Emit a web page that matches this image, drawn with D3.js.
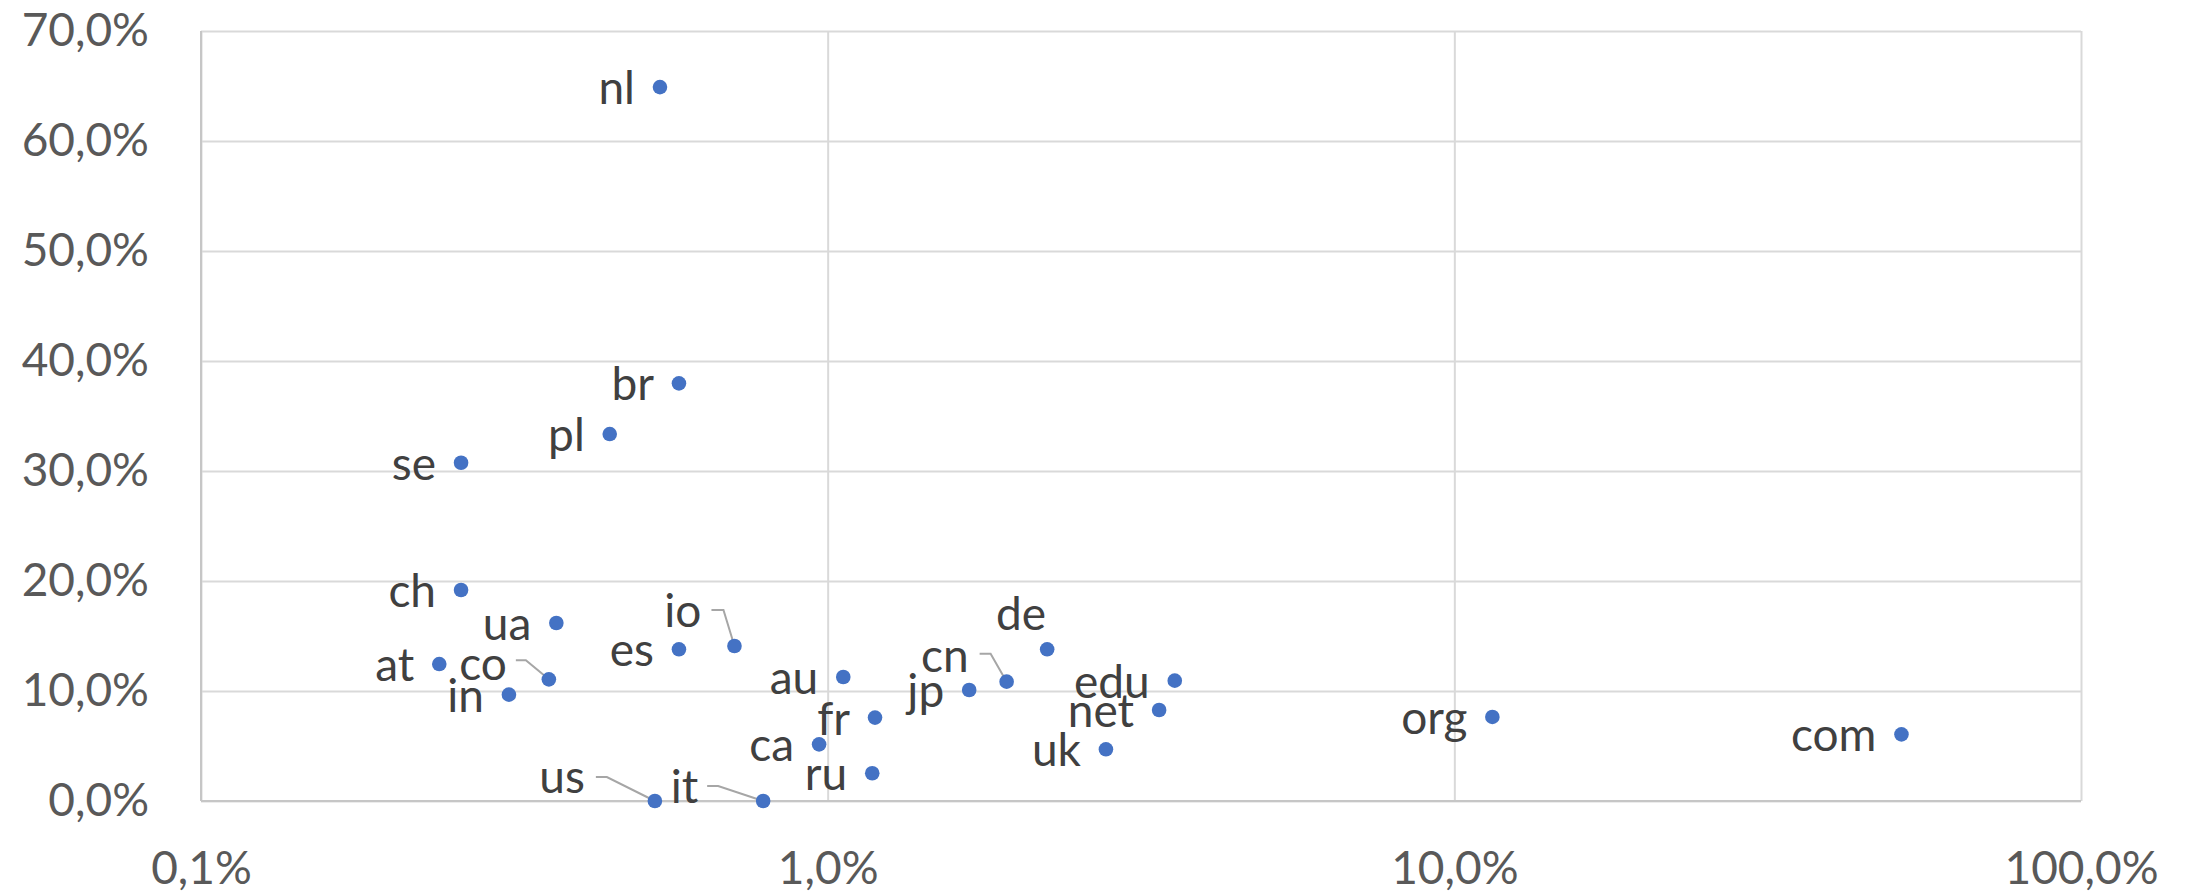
<!DOCTYPE html>
<html>
<head>
<meta charset="utf-8">
<script src="https://cdn.jsdelivr.net/npm/d3@7"></script>
<style>
  html, body { margin: 0; padding: 0; background: #ffffff; }
  svg { display: block; }
</style>
</head>
<body>
<svg id="chart" width="2188" height="894"></svg>
<script>
// ---- data ----
const domains = ["nl","br","pl","se","ch","ua","at","co","in","es","us","io","it","au","fr","ca","ru","jp","cn","de","edu","net","uk","org","com"];
const shareX  = [0.00540,0.00579,0.00449,0.00260,0.00260,0.00369,0.00240,0.00359,0.00310,0.00579,0.00530,0.00710,0.00789,0.01059,0.01190,0.00969,0.01178,0.01682,0.01930,0.02240,0.03580,0.03380,0.02780,0.11500,0.51700];
const shareY  = [0.649,0.3797,0.3336,0.3075,0.1918,0.1618,0.1245,0.1106,0.0967,0.1379,0.0,0.1409,0.0,0.1127,0.0758,0.0515,0.0252,0.1009,0.1085,0.1379,0.1094,0.0827,0.0470,0.0764,0.0606];
const xTickValues = [0.001, 0.01, 0.1, 1];
const yTickValues = [0, 0.1, 0.2, 0.3, 0.4, 0.5, 0.6, 0.7];

// ---- layout / style (not data) ----
const W = 2188, H = 894;
const margin = {left: 201, right: 107, top: 31, bottom: 93};
const width = W - margin.left - margin.right;
const height = H - margin.top - margin.bottom;
const FONT = "Lato, 'Open Sans', sans-serif";
const FS = 46;

// label placement: default is left of point; some labels are moved with leader lines
const defaultLabel = {dx: -25, dy: 17};
const customLabels = {
  co: {dx: -42, dy: 1,   leader: [[-33,-19],[-23,-19],[0,0]]},
  io: {dx: -33, dy: -19, leader: [[-23,-36],[-11,-36],[0,0]]},
  us: {dx: -70, dy: -8,  leader: [[-59,-24],[-48,-24],[0,0]]},
  it: {dx: -65, dy: 2,   leader: [[-56,-15],[-45,-15],[0,0]]},
  cn: {dx: -38, dy: -10, leader: [[-27,-28],[-16,-28],[0,0]]},
  de: {dx: -1,  dy: -19}
};

const locale = d3.formatLocale({decimal: ",", thousands: ".", grouping: [3], currency: ["", "€"]});
const fmt = locale.format(".1%");

const svg = d3.select("#chart");
const g = svg.append("g").attr("transform", `translate(${margin.left},${margin.top})`);

const x = d3.scaleLog().domain([0.001, 1]).range([0, width]);
const y = d3.scaleLinear().domain([0, 0.7]).range([height, 0]);

// Y axis with horizontal gridlines
const yAxis = g.append("g")
  .call(d3.axisLeft(y).tickValues(yTickValues).tickFormat(fmt).tickSize(-width).tickPadding(52));
yAxis.select(".domain").remove();
yAxis.selectAll(".tick line").attr("stroke", "#d9d9d9").attr("stroke-width", 2);
yAxis.selectAll(".tick text").attr("fill", "#595959").style("font-family", FONT).style("font-size", FS + "px");

// X axis with vertical gridlines
const xAxis = g.append("g").attr("transform", `translate(0,${height})`)
  .call(d3.axisBottom(x).tickValues(xTickValues).tickFormat(fmt).tickSize(-height).tickPadding(50));
xAxis.select(".domain").remove();
xAxis.selectAll(".tick line").attr("stroke", "#d9d9d9").attr("stroke-width", 2);
xAxis.selectAll(".tick text").attr("fill", "#595959").style("font-family", FONT).style("font-size", FS + "px");

// axis lines
g.append("line").attr("x1", 0).attr("x2", 0).attr("y1", 0).attr("y2", height)
  .attr("stroke", "#c6c6c6").attr("stroke-width", 2);
g.append("line").attr("x1", 0).attr("x2", width).attr("y1", height).attr("y2", height)
  .attr("stroke", "#c6c6c6").attr("stroke-width", 2);

const pts = domains.map((d, i) => ({name: d, px: x(shareX[i]), py: y(shareY[i])}));

// leader lines
g.append("g").selectAll("polyline")
  .data(pts.filter(p => customLabels[p.name] && customLabels[p.name].leader))
  .join("polyline")
  .attr("points", p => customLabels[p.name].leader.map(([a, b]) => `${p.px + a},${p.py + b}`).join(" "))
  .attr("fill", "none").attr("stroke", "#a6a6a6").attr("stroke-width", 2);

// markers
g.append("g").selectAll("circle").data(pts).join("circle")
  .attr("cx", p => p.px).attr("cy", p => p.py).attr("r", 7.3)
  .attr("fill", "#4472C4");

// labels
g.append("g").selectAll("text").data(pts).join("text")
  .attr("x", p => p.px + (customLabels[p.name] || defaultLabel).dx)
  .attr("y", p => p.py + (customLabels[p.name] || defaultLabel).dy)
  .attr("text-anchor", "end")
  .attr("fill", "#404040")
  .style("font-family", FONT).style("font-size", FS + "px")
  .text(p => p.name);
</script>
</body>
</html>
